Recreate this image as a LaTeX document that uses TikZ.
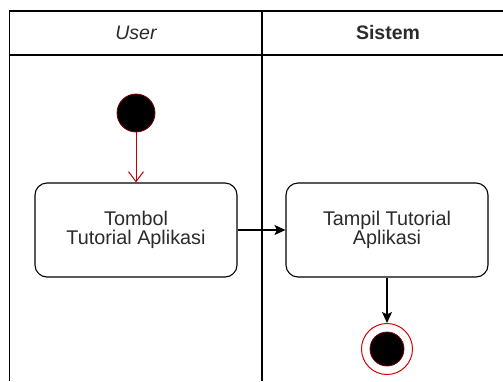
\documentclass[tikz,border=0pt]{standalone}
\usepackage{fontspec}
\setmainfont{Liberation Sans}
\usetikzlibrary{arrows.meta}
\definecolor{txt}{HTML}{2B2B2B}
\definecolor{ired}{HTML}{7A0000}
\begin{document}
\begin{tikzpicture}[x=1pt,y=-1pt,
  lane/.style={draw=black,line width=1.1pt},
  hdr/.style={inner sep=0pt,text=txt,font=\fontsize{19.5}{19.5}\selectfont},
  act/.style={draw=black,line width=1.1pt,rounded corners=12pt,minimum width=202pt,minimum height=94pt,
    align=center,text=txt,font=\fontsize{19.8}{19}\selectfont,inner sep=0pt},
  startnode/.style={circle,fill=black,draw=ired,line width=0.8pt,minimum size=38pt,inner sep=0pt},
  endouter/.style={circle,draw=red!85!black,line width=1pt,fill=white,minimum size=51pt,inner sep=0pt},
  endinner/.style={circle,fill=black,draw=ired,line width=0.8pt,minimum size=34pt,inner sep=0pt},
  redarr/.style={draw=red!75!black,line width=1pt,-{Straight Barb[length=10pt,width=15pt,line width=1pt]}},
  blkarr/.style={draw=black,line width=1.1pt,-{Stealth[length=11pt,width=10pt,inset=2.5pt]}}
]
\useasboundingbox (0,0) rectangle (503,381);
\fill[white] (0,0) rectangle (503,381);
\draw[lane] (9.5,381) -- (9.5,11) -- (503,11);
\draw[lane] (9.5,55) -- (503,55);
\draw[lane] (262,11) -- (262,381);
\node[hdr] (user) at (136,33) {\itshape User};
\node[hdr] (sistem) at (388,33) {\bfseries Sistem};
\node[startnode] (start) at (136,113) {};
\node[act] (a1) at (136,230) {Tombol\\Tutorial Aplikasi};
\node[act] (a2) at (387,230) {Tampil Tutorial\\Aplikasi};
\node[endouter] (end) at (387,349) {};
\node[endinner] (endin) at (end) {};
\draw[redarr] (start) -- (a1);
\draw[blkarr] (a1) -- (a2);
\draw[blkarr] (a2) -- (end);
\end{tikzpicture}
\end{document}
